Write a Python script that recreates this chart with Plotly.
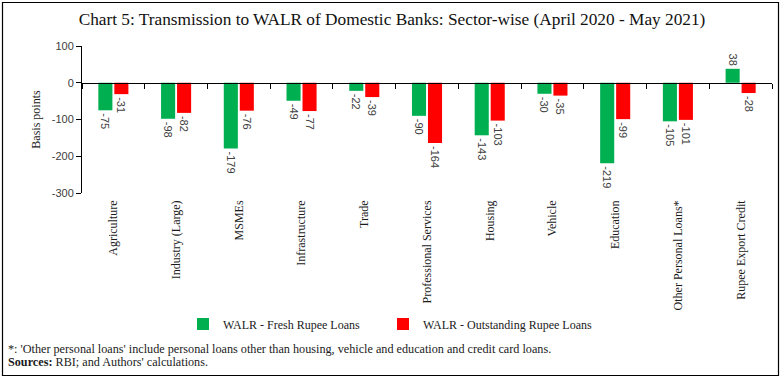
import plotly.graph_objects as go

categories = ["Agriculture", "Industry (Large)", "MSMEs", "Infrastructure", "Trade",
              "Professional Services", "Housing", "Vehicle", "Education",
              "Other Personal Loans*", "Rupee Export Credit"]
fresh = [-75, -98, -179, -49, -22, -90, -143, -30, -219, -105, 38]
outstanding = [-31, -82, -76, -77, -39, -164, -103, -35, -99, -101, -28]
y_ticks = [100, 0, -100, -200, -300]
y_ticktext = ["100", "0", "-100", "-200", "-300"]

GREEN = "#00B050"
RED = "#FF0000"
SERIF = "Liberation Serif, DejaVu Serif, serif"
SANS = "Liberation Sans, Arial, sans-serif"

W, H = 784, 381
L, R, T, B = 82, 12, 46, 188
PW, PH = W - L - R, H - T - B

def px_x(x):
    return (x - L) / PW

def px_y(y):
    return (H - B - y) / PH

fig = go.Figure()
fig.add_trace(go.Bar(
    name="WALR - Fresh Rupee Loans", x=categories, y=fresh,
    marker=dict(color=GREEN, line=dict(width=0)),
    text=[str(v) for v in fresh], textposition="outside", textangle=90,
    textfont=dict(family=SANS, size=11, color="#404040"),
    constraintext="none", cliponaxis=False, legendwidth=155,
))
fig.add_trace(go.Bar(
    name="WALR - Outstanding Rupee Loans", x=categories, y=outstanding,
    marker=dict(color=RED, line=dict(width=0)),
    text=[str(v) for v in outstanding], textposition="outside", textangle=90,
    textfont=dict(family=SANS, size=11, color="#404040"),
    constraintext="none", cliponaxis=False, legendwidth=185,
))
# empty helper trace so the zero-line axis is drawn
fig.add_trace(go.Scatter(x=[], y=[], xaxis="x2", yaxis="y", showlegend=False, hoverinfo="skip"))

n = len(categories)
fig.update_layout(
    width=W, height=H,
    margin=dict(l=L, r=R, t=T, b=B, autoexpand=False),
    paper_bgcolor="white", plot_bgcolor="white",
    barmode="group", bargap=0.49, bargroupgap=0.12,
    title=dict(text="Chart 5: Transmission to WALR of Domestic Banks: Sector-wise (April 2020 - May 2021)",
               x=392 / W, xref="container", xanchor="center", y=1 - 19 / H, yref="container",
               yanchor="middle",
               font=dict(family=SERIF, size=17.3, color="#111111")),
    xaxis=dict(type="category", range=[-0.5, n - 0.5], showline=False, ticks="",
               showgrid=False, zeroline=False, tickangle=-90, ticklabelstandoff=4,
               automargin=False,
               tickfont=dict(family=SERIF, size=12, color="#1a1a1a")),
    xaxis2=dict(type="linear", overlaying="x", anchor="free", position=0.75,
                range=[-0.5, n - 0.5], showline=True, linecolor="black", linewidth=1,
                ticks="outside", ticklen=5, tickcolor="black", tickwidth=1,
                tickvals=[i + 0.5 for i in range(-1, n)], showticklabels=False,
                showgrid=False, zeroline=False, automargin=False),
    yaxis=dict(range=[-300, 100], tickvals=y_ticks, ticktext=y_ticktext,
               showline=True, linecolor="black", linewidth=1,
               ticks="outside", ticklen=5, tickcolor="black",
               showgrid=False, zeroline=False, automargin=False,
               tickfont=dict(family=SANS, size=11, color="#404040"),
               title=dict(text="Basis points", standoff=8,
                          font=dict(family=SERIF, size=12, color="#1a1a1a"))),
    legend=dict(orientation="h", x=px_x(183), xanchor="left", y=px_y(324), yanchor="middle",
                font=dict(family=SERIF, size=12, color="#1a1a1a"),
                bgcolor="rgba(0,0,0,0)"),
    showlegend=True,
)

fig.add_annotation(x=px_x(6), y=px_y(349), xref="paper", yref="paper", xanchor="left", yanchor="middle",
                   showarrow=False, align="left",
                   text="*: 'Other personal loans' include personal loans other than housing, vehicle and education and credit card loans.",
                   font=dict(family=SERIF, size=12.2, color="#1a1a1a"))
fig.add_annotation(x=px_x(6), y=px_y(362), xref="paper", yref="paper", xanchor="left", yanchor="middle",
                   showarrow=False, align="left",
                   text="<b>Sources:</b> RBI; and Authors' calculations.",
                   font=dict(family=SERIF, size=12.2, color="#1a1a1a"))

fig.add_shape(type="rect", xref="paper", yref="paper",
              x0=px_x(2.5), x1=px_x(778.5), y0=px_y(375.5), y1=px_y(2.5),
              line=dict(color="black", width=1.2), fillcolor="rgba(0,0,0,0)", layer="above")

fig.write_html("out.html", config={"displayModeBar": False},
               post_script=["document.body.style.margin='0';"])
